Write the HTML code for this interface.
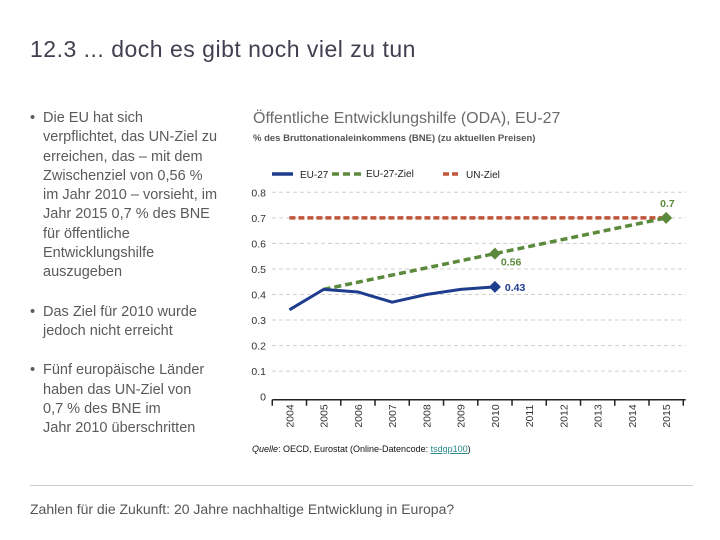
<!DOCTYPE html>
<html><head><meta charset="utf-8"><style>
body{margin:0;width:720px;height:540px;background:#fff;font-family:"Liberation Sans",sans-serif;position:relative;overflow:hidden}
.t{position:absolute;white-space:nowrap}
.b{position:relative;padding-left:13px;white-space:nowrap}
</style></head><body>
<div class="t" style="left:30px;top:36px;font-size:23px;letter-spacing:0.5px;color:#404050">12.3 ... doch es gibt noch viel zu tun</div>
<div style="position:absolute;left:30px;top:109px;font-size:14.5px;line-height:19.3px;color:#5a5a5a">
<div class="b"><span style="position:absolute;left:0">•</span>Die EU hat sich<br>verpflichtet, das UN-Ziel zu<br>erreichen, das – mit dem<br>Zwischenziel von 0,56 %<br>im Jahr 2010 – vorsieht, im<br>Jahr 2015 0,7 % des BNE<br>für öffentliche<br>Entwicklungshilfe<br>auszugeben</div>
<div class="b" style="margin-top:20px"><span style="position:absolute;left:0">•</span>Das Ziel für 2010 wurde<br>jedoch nicht erreicht</div>
<div class="b" style="margin-top:20px"><span style="position:absolute;left:0">•</span>Fünf europäische Länder<br>haben das UN-Ziel von<br>0,7 % des BNE im<br>Jahr 2010 überschritten</div>
</div>
<div class="t" style="left:253px;top:110px;font-size:16px;color:#6a6a6a">Öffentliche Entwicklungshilfe (ODA), EU-27</div>
<div class="t" style="left:253px;top:133px;font-size:9.5px;font-weight:bold;color:#555">% des Bruttonationaleinkommens (BNE) (zu aktuellen Preisen)</div>
<svg id="chart" width="720" height="540" style="position:absolute;left:0;top:0">
<g font-size="10" fill="#222">
<line x1="272" y1="174" x2="293" y2="174" stroke="#1f3d8f" stroke-width="3.5"/><text x="300" y="178">EU-27</text>
<line x1="332" y1="174" x2="362" y2="174" stroke="#5b8a3c" stroke-width="3.5" stroke-dasharray="7,4"/><text x="366" y="177">EU-27-Ziel</text>
<line x1="443" y1="174" x2="461" y2="174" stroke="#c0553a" stroke-width="3.5" stroke-dasharray="6,3"/><text x="466" y="178">UN-Ziel</text>
</g>
</svg>
<div class="t" style="left:252px;top:444px;font-size:9px;color:#111"><i>Quelle</i>: OECD, Eurostat (Online-Datencode: <span style="color:#2a8a8a;text-decoration:underline">tsdgp100</span>)</div>
<div style="position:absolute;left:30px;top:485px;width:663px;height:1px;background:#ccc"></div>
<div class="t" style="left:30px;top:501px;font-size:14px;color:#555">Zahlen für die Zukunft: 20 Jahre nachhaltige Entwicklung in Europa?</div>
<script>
const years=[2004,2005,2006,2007,2008,2009,2010,2011,2012,2013,2014,2015];
const yTicks=[0,0.1,0.2,0.3,0.4,0.5,0.6,0.7,0.8];
const yTickLabels=["0","0.1","0.2","0.3","0.4","0.5","0.6","0.7","0.8"];
const euYears=[2004,2005,2006,2007,2008,2009,2010];
const euValues=[0.34,0.42,0.41,0.37,0.40,0.42,0.43];
const targetYears=[2005,2010,2015];
const targetValues=[0.42,0.56,0.70];
const unYears=[2004,2015];
const unValues=[0.7,0.7];
const NS="http://www.w3.org/2000/svg";
const svg=document.getElementById('chart');
const x0=289.4,step=34.25,yBase=396.7,yPer=255.5;
const X=y=>x0+(y-years[0])*step;
const Y=v=>yBase-v*yPer;
function mk(t,a){const e=document.createElementNS(NS,t);for(const k in a)e.setAttribute(k,a[k]);svg.appendChild(e);return e;}
yTicks.forEach((v,i)=>{
 if(v>0){const g=mk('line',{x1:272,x2:686,y1:Y(v),y2:Y(v),stroke:'#d0d0d0','stroke-dasharray':'4,3'});
 
 }
 const t=mk('text',{x:266,y:Y(v)+4,'text-anchor':'end','font-size':10.5,fill:'#333'});t.textContent=yTickLabels[i];
 
 
});
const ax=mk('line',{x1:272.3,x2:685.7,y1:Y(0)+3,y2:Y(0)+3,stroke:'#222','stroke-width':1.5});


for(let k=0;k<=years.length;k++){const xx=X(years[0])-step/2+k*step;mk('line',{x1:xx,x2:xx,y1:Y(0)+3,y2:Y(0)+9,stroke:'#222','stroke-width':1.5});}
years.forEach(y=>{const t=mk('text',{x:0,y:0,'font-size':10.5,fill:'#333','text-anchor':'middle',transform:`translate(${X(y)+4},416) rotate(-90)`});t.textContent=y;
 
 });
function line(xs,vs,color,w,dash,name){const p=mk('polyline',{points:xs.map((x,i)=>X(x)+','+Y(vs[i])).join(' '),fill:'none',stroke:color,'stroke-width':w,'stroke-linejoin':'round'});if(dash)p.setAttribute('stroke-dasharray',dash);
 
 }
line(unYears,unValues,'#c0553a',3.5,'6,3','un-target-line');
line(targetYears,targetValues,'#5b8a3c',3.5,'7,4','eu-target-line');
line(euYears,euValues,'#1f3d8f',3,null,'eu27-line');
function diamond(yr,v,color,label,dx,dy,name){const cx=X(yr),cy=Y(v);const d=mk('polygon',{points:`${cx},${cy-6} ${cx+6},${cy} ${cx},${cy+6} ${cx-6},${cy}`,fill:color});
 
 
 const t=mk('text',{x:cx+dx,y:cy+dy,'font-size':10.5,'font-weight':'bold',fill:color});t.textContent=label;
 
 }
diamond(euYears[6],euValues[6],'#1f3d8f',String(euValues[6]),10,4,'eu27-2010-marker');
diamond(targetYears[1],targetValues[1],'#5b8a3c',String(targetValues[1]),6,12,'target-2010-marker');
diamond(targetYears[2],targetValues[2],'#5b8a3c',String(targetValues[2]),-6,-11,'target-2015-marker');
</script>
</body></html>
